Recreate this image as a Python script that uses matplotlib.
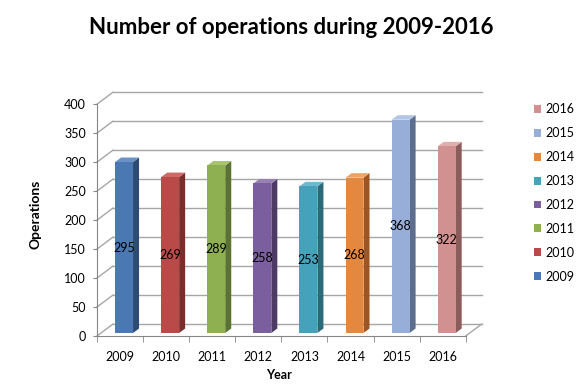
import matplotlib.pyplot as plt
import numpy as np
from matplotlib.patches import Polygon, Patch

plt.rcParams['font.family'] = ['Lato', 'DejaVu Sans']

# data
years = ['2009', '2010', '2011', '2012', '2013', '2014', '2015', '2016']
operations = [295, 269, 289, 258, 253, 268, 368, 322]
front_colors = ['#4a78b2', '#b94a47', '#8fb051', '#7a5e9d', '#46a2bb', '#e4883f', '#96aed8', '#d09190']
side_colors = ['#2e4b74', '#7a2e2c', '#5b7332', '#4d3a66', '#2b6a7b', '#9a5626', '#5d6d8c', '#8a5d5c']
top_colors = ['#6a92c6', '#cc6a67', '#a8c470', '#9680b4', '#6cbad0', '#f0a266', '#b2c6e4', '#e0aeac']

fig = plt.figure(figsize=(5.76, 3.84), dpi=100)
ax = fig.add_axes([0.1684, 0.125, 0.668, 0.635])

# fake 3d depth (in data units)
dx = 0.348
dy = 20.7
d0, d1 = 0.25, 0.625   # front/back of bars as fraction of depth
w = 0.39
n = len(years)

ax.set_xlim(-0.5, n - 0.5 + dx)
ax.set_ylim(0, 400 + dy)

grid_c = '#a6a6a6'
# back wall gridlines + left wall slants
for y in range(0, 401, 50):
    ax.plot([-0.5 + dx, n - 0.5 + dx], [y + dy, y + dy], color=grid_c, lw=1.0, clip_on=False, zorder=1)
    ax.plot([-0.5, -0.5 + dx], [y, y + dy], color=grid_c, lw=1.0, clip_on=False, zorder=1)
# floor right edge
ax.plot([n - 0.5, n - 0.5 + dx], [0, dy], color=grid_c, lw=1.0, clip_on=False, zorder=1)

# bars
for i, v in enumerate(operations):
    x0 = i - w / 2 + d0 * dx
    x1 = i + w / 2 + d0 * dx
    yb = d0 * dy
    ddx = (d1 - d0) * dx
    ddy = (d1 - d0) * dy
    ax.add_patch(Polygon([[x1, yb], [x1 + ddx, yb + ddy], [x1 + ddx, yb + ddy + v], [x1, yb + v]],
                         closed=True, facecolor=side_colors[i], edgecolor='none', zorder=3))
    ax.add_patch(Polygon([[x0, yb + v], [x1, yb + v], [x1 + ddx, yb + v + ddy], [x0 + ddx, yb + v + ddy]],
                         closed=True, facecolor=top_colors[i], edgecolor='none', zorder=3))
    ax.add_patch(Polygon([[x0, yb], [x1, yb], [x1, yb + v], [x0, yb + v]],
                         closed=True, facecolor=front_colors[i], edgecolor='none', zorder=4))
    ax.text((x0 + x1) / 2, yb + v / 2, str(v), ha='center', va='center', fontsize=9, zorder=5)

# axes
for s in ['top', 'right']:
    ax.spines[s].set_visible(False)
ax.spines['left'].set_bounds(0, 400)
ax.spines['bottom'].set_bounds(-0.5, n - 0.5)
ax.spines['left'].set_color('#868686')
ax.spines['bottom'].set_color('#868686')
ax.set_yticks(range(0, 401, 50))
ax.set_xticks(range(n))
ax.set_xticklabels(years)
ax.set_xticks(np.arange(-0.5, n, 1.0), minor=True)
ax.tick_params(axis='x', which='major', length=0, pad=11, labelsize=9)
ax.tick_params(axis='x', which='minor', length=4, color='#868686', direction='out')
ax.tick_params(axis='y', length=3, color='#868686', pad=5, labelsize=9)

ax.set_xlabel('Year', fontweight='bold', fontsize=9)
ax.xaxis.set_label_coords(0.473, -0.135)
ax.set_ylabel('Operations', fontweight='bold', fontsize=10, labelpad=16)

fig.suptitle('Number of operations during 2009-2016', fontweight='bold', fontsize=16, x=0.505, y=0.955)

handles = [Patch(facecolor=c) for c in front_colors]
leg = fig.legend(handles[::-1], years[::-1], loc='upper left', bbox_to_anchor=(0.907, 0.76),
                 frameon=False, fontsize=9, handlelength=0.6, handleheight=0.6,
                 handletextpad=0.3, labelspacing=0.95)

fig.savefig('out.png', dpi=100)
